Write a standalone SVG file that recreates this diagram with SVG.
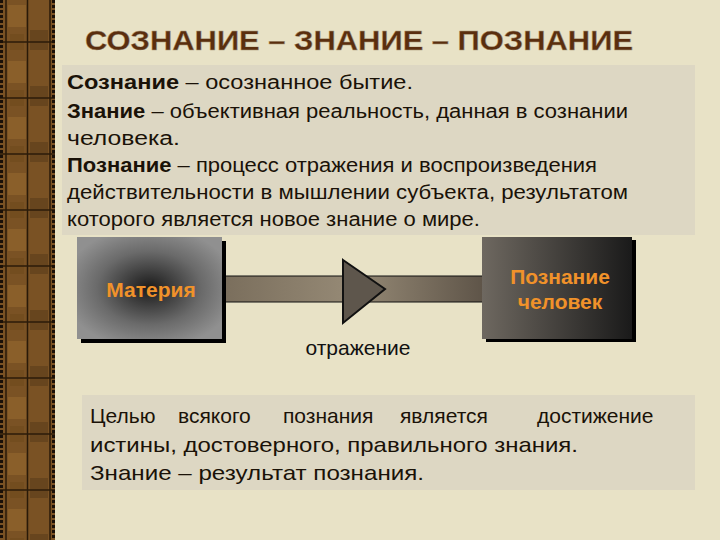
<svg xmlns="http://www.w3.org/2000/svg" width="720" height="540" viewBox="0 0 720 540">
<defs>
<style>
.t{font-family:"Liberation Sans",Arial,sans-serif;font-size:20px;fill:#1a1208}
.b{font-weight:bold}
.o{font-family:"Liberation Sans",Arial,sans-serif;font-size:21px;fill:#f0922a;font-weight:bold}
.c{font-family:"Liberation Sans",Arial,sans-serif;font-size:21px;fill:#1a1208}
</style>
<pattern id="wood" x="0" y="0" width="56" height="56" patternUnits="userSpaceOnUse">
<rect width="56" height="56" fill="#7a5224"/>
<rect x="8" y="5" width="18" height="22" fill="#94682e" opacity="0.6"/>
<rect x="30" y="30" width="18" height="20" fill="#5a3c1a" opacity="0.6"/>
<rect x="10" y="34" width="14" height="16" fill="#6e4a1c" opacity="0.6"/>
<line x1="27.5" y1="0" x2="27.5" y2="56" stroke="#2a1a08" stroke-width="1.5"/>
<line x1="0" y1="42" x2="56" y2="42" stroke="#2a1a08" stroke-width="1.5"/>
</pattern>
<radialGradient id="mat" cx="0.5" cy="0.5" r="0.6">
<stop offset="0" stop-color="#1a1a1a"/><stop offset="0.6" stop-color="#6a6a6a"/><stop offset="1" stop-color="#909090"/>
</radialGradient>
<linearGradient id="poz" x1="0" y1="0" x2="1" y2="0">
<stop offset="0" stop-color="#6e6860"/><stop offset="1" stop-color="#1a1a1a"/>
</linearGradient>
<linearGradient id="shaft" x1="0" y1="0" x2="1" y2="0">
<stop offset="0" stop-color="#7a6e5c"/><stop offset="0.5" stop-color="#968a76"/><stop offset="1" stop-color="#5e5448"/>
</linearGradient>
</defs>
<rect width="720" height="540" fill="#e8e2c6"/>
<g id="border">
<rect x="0" y="0" width="55" height="540" fill="url(#wood)"/>
<line x1="6" y1="0" x2="6" y2="540" stroke="#2a1a08" stroke-width="1.5"/>
<line x1="50" y1="0" x2="50" y2="540" stroke="#2a1a08" stroke-width="1.5"/>
<line x1="1.5" y1="0" x2="1.5" y2="540" stroke="#1a1008" stroke-width="3" stroke-dasharray="3 2"/>
<line x1="53.5" y1="0" x2="53.5" y2="540" stroke="#1a1008" stroke-width="3" stroke-dasharray="3 2"/>
</g>
<g id="title">
<text x="85" y="50" font-family="'Liberation Sans',Arial,sans-serif" font-size="27" font-weight="bold" fill="#5a2e0e" stroke="#a89878" stroke-width="0.4" textLength="548" lengthAdjust="spacingAndGlyphs">СОЗНАНИЕ – ЗНАНИЕ – ПОЗНАНИЕ</text>
</g>
<g id="definitions">
<rect x="62" y="65" width="633" height="170" fill="#ddd7c3"/>
<text class="t" x="67" y="89" textLength="346" lengthAdjust="spacingAndGlyphs"><tspan class="b">Сознание</tspan> – осознанное бытие.</text>
<text class="t" x="67" y="118" textLength="561" lengthAdjust="spacingAndGlyphs"><tspan class="b">Знание</tspan> – объективная реальность, данная в сознании</text>
<text class="t" x="67" y="145" textLength="113" lengthAdjust="spacingAndGlyphs">человека.</text>
<text class="t" x="67" y="172" textLength="530" lengthAdjust="spacingAndGlyphs"><tspan class="b">Познание</tspan> – процесс отражения и воспроизведения</text>
<text class="t" x="67" y="199" textLength="561" lengthAdjust="spacingAndGlyphs">действительности в мышлении субъекта, результатом</text>
<text class="t" x="67" y="226" textLength="413" lengthAdjust="spacingAndGlyphs">которого является новое знание о мире.</text>
</g>
<g id="connectors">
<rect x="222" y="276" width="262" height="26" fill="url(#shaft)" stroke="#111" stroke-width="1"/>
<polygon points="343,260 385,289 343,323" fill="#5e564c" stroke="#111" stroke-width="2"/>
<text x="358" y="355" text-anchor="middle" font-family="'Liberation Sans',Arial,sans-serif" font-size="21" fill="#111">отражение</text>
</g>
<g id="materia">
<rect x="81" y="241" width="145" height="102" fill="#000"/>
<rect x="77" y="237" width="145" height="102" fill="url(#mat)"/>
<text class="o" x="151" y="297" text-anchor="middle">Материя</text>
</g>
<g id="poznanie">
<rect x="486" y="240" width="150" height="102" fill="#000"/>
<rect x="482" y="237" width="150" height="102" fill="url(#poz)"/>
<text class="o" x="560" y="284" text-anchor="middle">Познание</text>
<text class="o" x="560" y="309" text-anchor="middle">человек</text>
</g>
<g id="conclusion">
<rect x="82" y="395" width="613" height="95" fill="#ddd7c3"/>
<text class="c" y="423"><tspan x="90">Целью</tspan> <tspan x="178">всякого</tspan> <tspan x="283">познания</tspan> <tspan x="400">является</tspan> <tspan x="537">достижение</tspan></text>
<text class="c" x="90" y="452" textLength="488" lengthAdjust="spacingAndGlyphs">истины, достоверного, правильного знания.</text>
<text class="c" x="90" y="480" textLength="334" lengthAdjust="spacingAndGlyphs">Знание – результат познания.</text>
</g>
</svg>
